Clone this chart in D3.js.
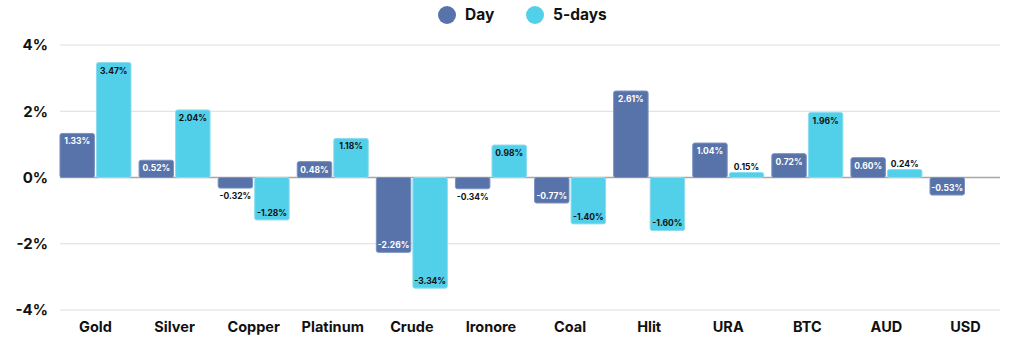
<!DOCTYPE html>
<html>
<head>
<meta charset="utf-8">
<script src="https://cdn.jsdelivr.net/npm/d3@7"></script>
<style>
  body { margin: 0; background: #fff; }
  svg { font-family: "Inter", "Open Sans", sans-serif; }
</style>
</head>
<body>
<svg></svg>
<script>
    // data
    categories = ["Gold","Silver","Copper","Platinum","Crude","Ironore","Coal","Hlit","URA","BTC","AUD","USD"];
    series = ["Day","5-days"];
    dayValues = [1.33, 0.52, -0.32, 0.48, -2.26, -0.34, -0.77, 2.61, 1.04, 0.72, 0.60, -0.53];
    fiveDayValues = [3.47, 2.04, -1.28, 1.18, -3.34, 0.98, -1.40, -1.60, 0.15, 1.96, 0.24, null];
    yTicks = [-4, -2, 0, 2, 4];
    colors = ["#5873aa", "#52cfe9"];

    rows = [];
    categories.forEach(function(c, i) {
        rows.push({cat: c, s: 0, v: dayValues[i]});
        if (fiveDayValues[i] != null) rows.push({cat: c, s: 1, v: fiveDayValues[i]});
    });

    svg = d3.select("svg").attr("width", 1024).attr("height", 346);

    // scales
    x0 = d3.scaleBand().domain(categories).range([56, 1005]).paddingInner(0.102).paddingOuter(0.05);
    x1 = d3.scaleBand().domain([0, 1]).range([0, x0.bandwidth()]).paddingInner(0.057);
    ys = d3.scaleLinear().domain([-4, 4]).range([310, 45]);

    // gridlines
    svg.append("g").selectAll("line").data(yTicks).enter().append("line")
    .attr("x1", 60).attr("x2", 1000)
    .attr("y1", function(d){return ys(d);})
    .attr("y2", function(d){return ys(d);})
    .attr("stroke", function(d){return d == 0 ? "#a8a8a8" : "#dcdcdc";})
    .attr("stroke-width", function(d){return d == 0 ? 1.5 : 1;});

    // y axis labels
    svg.append("g")
    .attr("transform", "translate(48,0)")
    .call(d3.axisLeft(ys).tickValues(yTicks).tickSize(0).tickPadding(0).tickFormat(function(d){return d + "%";}))
    .call(function(g){ g.select(".domain").remove(); })
    .selectAll("text")
    .attr("font-size", 15).attr("font-weight", 700).attr("fill", "#111")
    .attr("font-family", "Inter, sans-serif");

    // bars
    bars = svg.append("g");
    bars.selectAll("rect").data(rows).enter().append("rect")
    .attr("x", function(d){return x0(d.cat) + x1(d.s);})
    .attr("y", function(d){return ys(Math.max(0, d.v));})
    .attr("width", x1.bandwidth())
    .attr("height", function(d){return Math.abs(ys(d.v) - ys(0));})
    .attr("rx", 2)
    .attr("fill", function(d){return colors[d.s];})
    .attr("stroke", function(d){return d.s == 0 ? "#7b92c0" : "#8adcf0";})
    .attr("stroke-width", 1);

    // value labels
    bars.selectAll("text").data(rows).enter().append("text")
    .attr("x", function(d){return x0(d.cat) + x1(d.s) + x1.bandwidth() / 2;})
    .attr("y", function(d){
        var small = Math.abs(d.v) < 0.4;
        if (d.v >= 0) return small ? ys(d.v) - 6 : ys(d.v) + 8;
        return small ? ys(d.v) + 8 : ys(d.v) - 7;
    })
    .attr("dy", "0.35em")
    .attr("text-anchor", "middle")
    .attr("font-size", 8.5).attr("font-weight", 700)
    .attr("fill", function(d){return (d.s == 0 && Math.abs(d.v) >= 0.4) ? "#fff" : "#111";})
    .text(function(d){return d.v.toFixed(2) + "%";});

    // category labels
    svg.append("g")
    .attr("transform", "translate(0,318)")
    .call(d3.axisBottom(x0).tickSize(0).tickPadding(0))
    .call(function(g){ g.select(".domain").remove(); })
    .selectAll("text")
    .attr("dy", "0.35em").attr("y", 9)
    .attr("font-size", 14.5).attr("font-weight", 700).attr("fill", "#111")
    .attr("font-family", "Inter, sans-serif");

    // legend
    legend = svg.append("g").selectAll("g").data(series).enter().append("g")
    .attr("transform", function(d, i){return "translate(" + [447, 535][i] + ",15)";});
    legend.append("circle").attr("r", 9).attr("fill", function(d, i){return colors[i];});
    legend.append("text").attr("x", 18).attr("dy", "0.35em")
    .attr("font-size", 15.5).attr("font-weight", 700).attr("fill", "#111")
    .text(function(d){return d;});
</script>
</body>
</html>
